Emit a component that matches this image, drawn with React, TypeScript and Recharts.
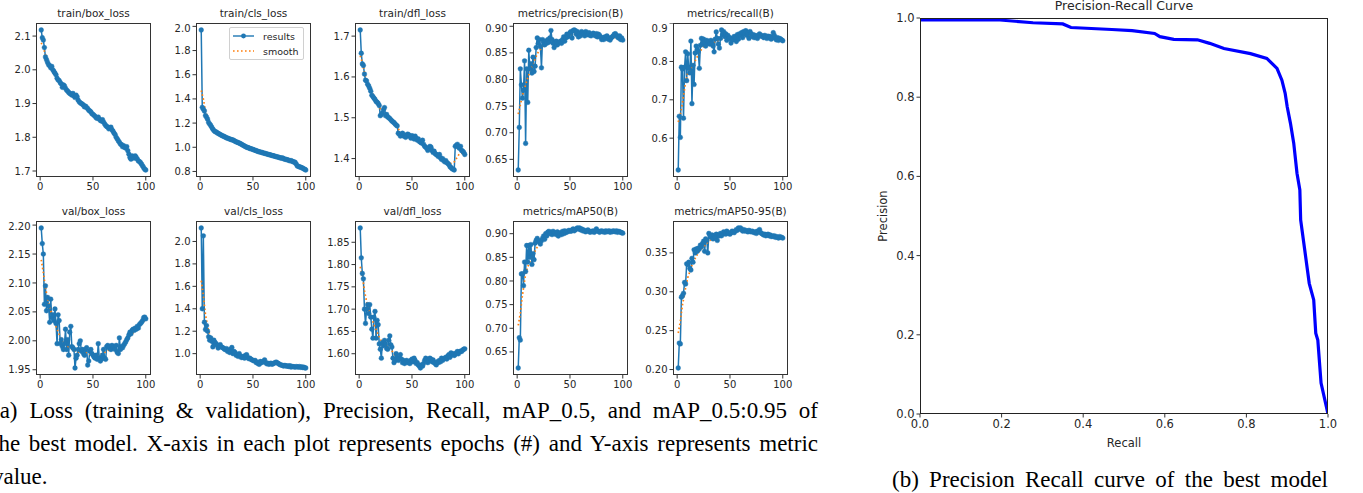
import React from "react"
import { LineChart, Line, XAxis, YAxis, Legend } from "recharts"

// epochs on the x axis of every small plot
const EPOCHS = Array.from({ length: 100 }, (_, i) => i + 1)
const SMOOTH_EPOCHS = [1, 3, 5, 8, 10, 15, 20, 25, 30, 35, 40, 45, 50, 55, 60, 65, 70, 75, 80, 85, 90, 95, 100]

const trainBoxLoss = [
  2.118, 2.095, 2.088, 2.066, 2.038, 2.030, 2.022, 2.015, 2.012, 2.006,
  2.010, 2.000, 1.995, 1.990, 1.985, 1.975, 1.970, 1.968, 1.962, 1.958,
  1.948, 1.955, 1.952, 1.945, 1.940, 1.937, 1.933, 1.930, 1.928, 1.925,
  1.930, 1.922, 1.918, 1.925, 1.920, 1.910, 1.905, 1.902, 1.900, 1.898,
  1.895, 1.890, 1.892, 1.888, 1.885, 1.880, 1.878, 1.875, 1.870, 1.868,
  1.865, 1.862, 1.858, 1.856, 1.860, 1.854, 1.850, 1.848, 1.852, 1.845,
  1.840, 1.835, 1.832, 1.830, 1.825, 1.828, 1.830, 1.822, 1.818, 1.812,
  1.808, 1.800, 1.795, 1.790, 1.785, 1.780, 1.778, 1.772, 1.775, 1.770,
  1.768, 1.772, 1.760, 1.750, 1.740, 1.735, 1.745, 1.742, 1.738, 1.745,
  1.740, 1.735, 1.730, 1.728, 1.725, 1.720, 1.715, 1.710, 1.705, 1.703,
]
const trainBoxSmooth = [2.080, 2.065, 2.045, 2.020, 2.008, 1.985, 1.960, 1.942, 1.928, 1.917, 1.900, 1.887, 1.870, 1.858, 1.847, 1.830, 1.815, 1.790, 1.772, 1.750, 1.738, 1.723, 1.706]

const trainClsLoss = [
  1.970, 1.330, 1.315, 1.300, 1.262, 1.250, 1.232, 1.205, 1.192, 1.180,
  1.165, 1.150, 1.138, 1.130, 1.128, 1.120, 1.115, 1.110, 1.105, 1.100,
  1.095, 1.092, 1.088, 1.082, 1.078, 1.075, 1.072, 1.068, 1.065, 1.062,
  1.060, 1.055, 1.050, 1.045, 1.042, 1.038, 1.035, 1.030, 1.025, 1.020,
  1.015, 1.010, 1.005, 1.000, 0.998, 0.995, 0.990, 0.988, 0.985, 0.982,
  0.978, 0.975, 0.972, 0.968, 0.965, 0.962, 0.960, 0.958, 0.955, 0.952,
  0.950, 0.948, 0.945, 0.942, 0.940, 0.938, 0.935, 0.932, 0.930, 0.928,
  0.925, 0.922, 0.920, 0.918, 0.915, 0.912, 0.910, 0.912, 0.905, 0.902,
  0.900, 0.898, 0.895, 0.892, 0.888, 0.890, 0.885, 0.880, 0.878, 0.875,
  0.860, 0.845, 0.842, 0.838, 0.835, 0.832, 0.828, 0.822, 0.818, 0.812,
]
const trainClsSmooth = [1.470, 1.400, 1.300, 1.220, 1.180, 1.130, 1.100, 1.080, 1.062, 1.042, 1.022, 1.002, 0.985, 0.968, 0.955, 0.942, 0.928, 0.915, 0.902, 0.888, 0.868, 0.840, 0.816]

const trainDflLoss = [
  1.715, 1.658, 1.632, 1.628, 1.607, 1.592, 1.590, 1.582, 1.578, 1.572,
  1.565, 1.555, 1.552, 1.548, 1.545, 1.540, 1.538, 1.535, 1.530, 1.505,
  1.508, 1.512, 1.520, 1.525, 1.505, 1.508, 1.502, 1.500, 1.498, 1.495,
  1.492, 1.490, 1.488, 1.485, 1.482, 1.480, 1.462, 1.460, 1.455, 1.458,
  1.462, 1.455, 1.458, 1.452, 1.455, 1.460, 1.458, 1.455, 1.450, 1.456,
  1.452, 1.448, 1.455, 1.450, 1.445, 1.448, 1.442, 1.440, 1.438, 1.445,
  1.435, 1.430, 1.428, 1.425, 1.420, 1.425, 1.430, 1.428, 1.420, 1.415,
  1.418, 1.412, 1.410, 1.408, 1.405, 1.410, 1.402, 1.398, 1.400, 1.395,
  1.392, 1.395, 1.390, 1.388, 1.385, 1.380, 1.378, 1.375, 1.374, 1.372,
  1.430, 1.432, 1.435, 1.428, 1.425, 1.430, 1.420, 1.418, 1.415, 1.410,
]
const trainDflSmooth = [1.652, 1.635, 1.612, 1.585, 1.572, 1.547, 1.522, 1.507, 1.494, 1.480, 1.462, 1.456, 1.453, 1.447, 1.437, 1.425, 1.416, 1.406, 1.396, 1.386, 1.392, 1.412, 1.415]

const precision = [
  0.630, 0.710, 0.820, 0.790, 0.765, 0.780, 0.835, 0.680, 0.820, 0.757,
  0.855, 0.820, 0.830, 0.812, 0.842, 0.815, 0.825, 0.860, 0.878, 0.868,
  0.875, 0.862, 0.822, 0.875, 0.870, 0.865, 0.872, 0.868, 0.875, 0.870,
  0.878, 0.892, 0.875, 0.868, 0.860, 0.870, 0.872, 0.865, 0.868, 0.870,
  0.872, 0.868, 0.875, 0.880, 0.872, 0.878, 0.885, 0.880, 0.885, 0.888,
  0.890, 0.878, 0.892, 0.893, 0.892, 0.885, 0.890, 0.880, 0.886, 0.882,
  0.890, 0.888, 0.885, 0.882, 0.890, 0.886, 0.884, 0.888, 0.883, 0.882,
  0.885, 0.887, 0.884, 0.882, 0.886, 0.880, 0.885, 0.883, 0.880, 0.875,
  0.878, 0.875, 0.880, 0.878, 0.882, 0.876, 0.878, 0.874, 0.878, 0.880,
  0.882, 0.885, 0.886, 0.883, 0.880, 0.878, 0.882, 0.875, 0.878, 0.874,
]
const precisionSmooth = [0.735, 0.752, 0.770, 0.790, 0.803, 0.830, 0.852, 0.864, 0.870, 0.871, 0.870, 0.877, 0.884, 0.887, 0.886, 0.886, 0.884, 0.883, 0.880, 0.878, 0.878, 0.880, 0.879]

const recall = [
  0.517, 0.657, 0.602, 0.785, 0.780, 0.652, 0.785, 0.825, 0.750, 0.820,
  0.782, 0.770, 0.853, 0.690, 0.790, 0.740, 0.822, 0.840, 0.832, 0.825,
  0.782, 0.842, 0.860, 0.845, 0.858, 0.850, 0.840, 0.855, 0.848, 0.852,
  0.845, 0.855, 0.848, 0.840, 0.825, 0.858, 0.877, 0.860, 0.845, 0.835,
  0.860, 0.882, 0.870, 0.878, 0.865, 0.872, 0.855, 0.868, 0.860, 0.862,
  0.848, 0.855, 0.858, 0.865, 0.862, 0.852, 0.870, 0.858, 0.872, 0.868,
  0.875, 0.862, 0.878, 0.872, 0.880, 0.868, 0.875, 0.860, 0.878, 0.872,
  0.865, 0.870, 0.862, 0.868, 0.865, 0.860, 0.868, 0.872, 0.866, 0.868,
  0.865, 0.862, 0.868, 0.864, 0.860, 0.866, 0.862, 0.865, 0.858, 0.862,
  0.875, 0.868, 0.860, 0.856, 0.862, 0.855, 0.860, 0.858, 0.856, 0.854,
]
const recallSmooth = [0.642, 0.662, 0.692, 0.745, 0.770, 0.790, 0.818, 0.840, 0.846, 0.850, 0.856, 0.862, 0.862, 0.862, 0.865, 0.868, 0.868, 0.866, 0.866, 0.864, 0.862, 0.860, 0.857]

const valBoxLoss = [
  2.195, 2.168, 2.150, 2.063, 2.095, 2.052, 2.075, 2.060, 2.032, 2.072,
  2.040, 2.045, 2.035, 2.055, 2.030, 1.995, 2.045, 2.035, 1.995, 2.002,
  1.990, 1.985, 1.995, 2.020, 1.985, 2.002, 1.975, 2.015, 2.025, 1.990,
  1.988, 1.985, 1.953, 1.970, 1.975, 1.985, 1.995, 2.000, 1.982, 1.985,
  1.978, 1.975, 1.985, 1.988, 1.958, 1.965, 1.982, 1.985, 1.978, 1.975,
  1.972, 1.970, 1.975, 1.968, 1.995, 1.970, 1.965, 1.968, 1.975, 1.985,
  1.970, 1.968, 1.990, 1.992, 1.988, 1.990, 1.985, 1.992, 1.988, 1.990,
  1.985, 1.992, 1.980, 1.978, 2.005, 1.985, 1.990, 1.988, 1.992, 1.995,
  1.998, 2.002, 2.005, 2.010, 2.015, 2.012, 2.018, 2.020, 2.018, 2.022,
  2.020, 2.025, 2.022, 2.028, 2.030, 2.032, 2.035, 2.040, 2.041, 2.038,
]
const valBoxSmooth = [2.140, 2.118, 2.092, 2.065, 2.052, 2.025, 2.002, 1.990, 1.986, 1.980, 1.982, 1.978, 1.975, 1.975, 1.979, 1.984, 1.986, 1.987, 1.995, 2.008, 2.018, 2.028, 2.037]

const valClsLoss = [
  2.120, 1.400, 2.050, 1.280, 1.215, 1.250, 1.200, 1.150, 1.120, 1.140,
  1.110, 1.060, 1.120, 1.100, 1.090, 1.075, 1.050, 1.070, 1.080, 1.060,
  1.055, 1.050, 1.040, 1.035, 1.045, 1.020, 1.030, 1.010, 1.040, 1.055,
  1.000, 1.020, 1.010, 0.985, 0.990, 0.975, 1.000, 0.980, 0.965, 0.970,
  0.975, 0.960, 0.985, 0.990, 0.965, 0.955, 0.960, 0.950, 0.945, 0.940,
  0.935, 0.940, 0.920, 0.925, 0.910, 0.905, 0.930, 0.920, 0.925, 0.930,
  0.945, 0.920, 0.910, 0.915, 0.905, 0.910, 0.915, 0.905, 0.910, 0.915,
  0.920, 0.925, 0.918, 0.912, 0.905, 0.900, 0.898, 0.895, 0.890, 0.895,
  0.892, 0.888, 0.890, 0.885, 0.892, 0.880, 0.886, 0.884, 0.882, 0.880,
  0.885, 0.882, 0.880, 0.885, 0.878, 0.882, 0.876, 0.880, 0.874, 0.872,
]
const valClsSmooth = [1.650, 1.520, 1.350, 1.200, 1.150, 1.085, 1.055, 1.040, 1.022, 0.995, 0.975, 0.962, 0.945, 0.930, 0.922, 0.915, 0.912, 0.908, 0.898, 0.890, 0.884, 0.881, 0.876]

const valDflLoss = [
  1.882, 1.815, 1.780, 1.768, 1.700, 1.668, 1.700, 1.710, 1.690, 1.710,
  1.682, 1.655, 1.635, 1.682, 1.695, 1.635, 1.675, 1.665, 1.622, 1.610,
  1.590, 1.625, 1.618, 1.630, 1.622, 1.612, 1.610, 1.630, 1.640, 1.620,
  1.615, 1.590, 1.580, 1.585, 1.600, 1.592, 1.585, 1.590, 1.598, 1.588,
  1.580, 1.585, 1.578, 1.582, 1.585, 1.580, 1.582, 1.578, 1.585, 1.588,
  1.582, 1.590, 1.585, 1.578, 1.580, 1.575, 1.572, 1.568, 1.575, 1.572,
  1.578, 1.585, 1.590, 1.588, 1.580, 1.585, 1.590, 1.588, 1.582, 1.586,
  1.580, 1.578, 1.575, 1.582, 1.580, 1.585, 1.582, 1.590, 1.585, 1.588,
  1.590, 1.592, 1.588, 1.595, 1.598, 1.592, 1.602, 1.598, 1.600, 1.596,
  1.598, 1.602, 1.605, 1.600, 1.604, 1.606, 1.605, 1.608, 1.610, 1.611,
]
const valDflSmooth = [1.795, 1.775, 1.742, 1.705, 1.690, 1.660, 1.632, 1.620, 1.610, 1.592, 1.587, 1.583, 1.581, 1.578, 1.577, 1.582, 1.583, 1.583, 1.586, 1.592, 1.598, 1.604, 1.608]

const map50 = [
  0.616, 0.680, 0.675, 0.815, 0.815, 0.790, 0.840, 0.820, 0.875, 0.840,
  0.875, 0.850, 0.877, 0.835, 0.858, 0.845, 0.880, 0.886, 0.890, 0.885,
  0.882, 0.878, 0.885, 0.890, 0.895, 0.888, 0.900, 0.895, 0.903, 0.905,
  0.900, 0.903, 0.898, 0.905, 0.900, 0.902, 0.898, 0.904, 0.895, 0.900,
  0.902, 0.898, 0.905, 0.900, 0.906, 0.902, 0.905, 0.904, 0.907, 0.906,
  0.905, 0.908, 0.910, 0.906, 0.908, 0.910, 0.912, 0.910, 0.912, 0.908,
  0.910, 0.906, 0.908, 0.905, 0.904, 0.906, 0.908, 0.905, 0.903, 0.905,
  0.904, 0.906, 0.903, 0.905, 0.910, 0.906, 0.905, 0.903, 0.905, 0.906,
  0.904, 0.905, 0.903, 0.906, 0.904, 0.905, 0.906, 0.903, 0.905, 0.904,
  0.906, 0.905, 0.904, 0.906, 0.903, 0.905, 0.904, 0.903, 0.902, 0.901,
]
const map50Smooth = [0.706, 0.732, 0.770, 0.815, 0.830, 0.855, 0.876, 0.890, 0.897, 0.900, 0.902, 0.904, 0.906, 0.907, 0.908, 0.907, 0.906, 0.906, 0.905, 0.905, 0.904, 0.904, 0.903]

const map5095 = [
  0.202, 0.234, 0.233, 0.293, 0.295, 0.298, 0.312, 0.310, 0.336, 0.335,
  0.338, 0.330, 0.328, 0.343, 0.338, 0.354, 0.350, 0.355, 0.352, 0.356,
  0.355, 0.360, 0.358, 0.362, 0.365, 0.352, 0.368, 0.366, 0.350, 0.375,
  0.372, 0.370, 0.373, 0.368, 0.372, 0.370, 0.374, 0.366, 0.373, 0.372,
  0.375, 0.372, 0.374, 0.377, 0.376, 0.374, 0.378, 0.376, 0.375, 0.374,
  0.376, 0.378, 0.377, 0.376, 0.378, 0.380, 0.379, 0.382, 0.381, 0.382,
  0.380, 0.378, 0.380, 0.378, 0.379, 0.378, 0.377, 0.379, 0.378, 0.377,
  0.378, 0.377, 0.376, 0.377, 0.375, 0.378, 0.377, 0.380, 0.376, 0.375,
  0.374, 0.373, 0.374, 0.372, 0.373, 0.374, 0.372, 0.373, 0.371, 0.372,
  0.371, 0.372, 0.370, 0.371, 0.370, 0.369, 0.371, 0.370, 0.370, 0.369,
]
const map5095Smooth = [0.247, 0.262, 0.283, 0.305, 0.318, 0.338, 0.350, 0.358, 0.365, 0.370, 0.372, 0.374, 0.376, 0.377, 0.378, 0.379, 0.378, 0.377, 0.375, 0.373, 0.372, 0.371, 0.370]

// precision-recall curve of the best model
const prRecall = [0, 0.196, 0.277, 0.35, 0.37, 0.47, 0.52, 0.575, 0.588, 0.622, 0.68, 0.71, 0.745, 0.81, 0.85, 0.875, 0.887, 0.895, 0.9, 0.908, 0.916, 0.924, 0.931, 0.933, 0.943, 0.954, 0.965, 0.97, 0.975, 0.983, 1.0]
const prPrecision = [0.995, 0.995, 0.988, 0.985, 0.976, 0.971, 0.968, 0.961, 0.953, 0.946, 0.945, 0.936, 0.923, 0.91, 0.898, 0.873, 0.843, 0.81, 0.776, 0.734, 0.684, 0.608, 0.566, 0.49, 0.414, 0.33, 0.288, 0.204, 0.187, 0.078, 0.0]

const BLUE = "#1f77b4"
const ORANGE = "#ff7f0e"
const TXT = "#262626"
const FONT = "DejaVu Sans"
const PW = 115
const PH = 154

const plots = [
  { title: "train/box_loss", values: trainBoxLoss, smooth: trainBoxSmooth, ticks: [1.7, 1.8, 1.9, 2.0, 2.1], digits: 1, x: 36, y: 22.7 },
  { title: "train/cls_loss", values: trainClsLoss, smooth: trainClsSmooth, ticks: [0.8, 1.0, 1.2, 1.4, 1.6, 1.8, 2.0], digits: 1, x: 196, y: 22.7, legend: true },
  { title: "train/dfl_loss", values: trainDflLoss, smooth: trainDflSmooth, ticks: [1.4, 1.5, 1.6, 1.7], digits: 1, x: 355, y: 22.7 },
  { title: "metrics/precision(B)", values: precision, smooth: precisionSmooth, ticks: [0.65, 0.7, 0.75, 0.8, 0.85, 0.9], digits: 2, x: 513, y: 22.7 },
  { title: "metrics/recall(B)", values: recall, smooth: recallSmooth, ticks: [0.6, 0.7, 0.8, 0.9], digits: 1, x: 673, y: 22.7 },
  { title: "val/box_loss", values: valBoxLoss, smooth: valBoxSmooth, ticks: [1.95, 2.0, 2.05, 2.1, 2.15, 2.2], digits: 2, x: 36, y: 220.5 },
  { title: "val/cls_loss", values: valClsLoss, smooth: valClsSmooth, ticks: [1.0, 1.2, 1.4, 1.6, 1.8, 2.0], digits: 1, x: 196, y: 220.5 },
  { title: "val/dfl_loss", values: valDflLoss, smooth: valDflSmooth, ticks: [1.6, 1.65, 1.7, 1.75, 1.8, 1.85], digits: 2, x: 355, y: 220.5 },
  { title: "metrics/mAP50(B)", values: map50, smooth: map50Smooth, ticks: [0.65, 0.7, 0.75, 0.8, 0.85, 0.9], digits: 2, x: 513, y: 220.5 },
  { title: "metrics/mAP50-95(B)", values: map5095, smooth: map5095Smooth, ticks: [0.2, 0.25, 0.3, 0.35], digits: 2, x: 673, y: 220.5 },
]

const LegendBox = () => (
  <div style={{ width: 75, height: 33, boxSizing: "border-box", border: "1px solid #d0d0d0", borderRadius: 2, background: "rgba(255,255,255,0.85)", fontFamily: FONT, fontSize: 9.5, color: TXT, padding: "1px 0 0 3px" }}>
    <div style={{ display: "flex", alignItems: "center", height: 15 }}>
      <svg width={21} height={8}>
        <line x1={0} y1={4} x2={21} y2={4} stroke={BLUE} strokeWidth={1.4} />
        <circle cx={10.5} cy={4} r={2.4} fill={BLUE} />
      </svg>
      <span style={{ marginLeft: 9 }}>results</span>
    </div>
    <div style={{ display: "flex", alignItems: "center", height: 15 }}>
      <svg width={21} height={8}>
        <line x1={0} y1={4} x2={21} y2={4} stroke={ORANGE} strokeWidth={1.6} strokeDasharray="1.6 2.4" />
      </svg>
      <span style={{ marginLeft: 9 }}>smooth</span>
    </div>
  </div>
)

function SmallPlot({ p }: any) {
  const lo = Math.min(...p.values)
  const hi = Math.max(...p.values)
  const pad = (hi - lo) * 0.05
  const data = EPOCHS.map((e, i) => ({ epoch: e, v: p.values[i] }))
  const sData = SMOOTH_EPOCHS.map((e, i) => ({ epoch: e, s: p.smooth[i] }))
  const tick = { fill: TXT, fontSize: 10, fontFamily: FONT }

  return (
    <div style={{ position: "absolute", left: p.x - 40, top: p.y }}>
      <LineChart width={40 + PW + 6} height={PH + 22} margin={{ top: 0, right: 6, left: 0, bottom: 0 }}>
        <XAxis dataKey="epoch" type="number" domain={[-3.95, 104.95]} ticks={[0, 50, 100]} allowDataOverflow
          axisLine={false} tickSize={3.5} tickLine={{ stroke: "#333" }} tick={tick} height={22} />
        <YAxis type="number" domain={[lo - pad, hi + pad]} ticks={p.ticks} allowDataOverflow width={40}
          axisLine={false} tickSize={3.5} tickLine={{ stroke: "#333" }} tick={tick}
          tickFormatter={(v: number) => v.toFixed(p.digits)} />
        <Line data={data} dataKey="v" type="linear" stroke={BLUE} strokeWidth={1.5}
          dot={{ r: 2.4, fill: BLUE, stroke: BLUE, strokeWidth: 0.4 }} isAnimationActive={false} />
        <Line data={sData} dataKey="s" type="linear" stroke={ORANGE} strokeWidth={1.7}
          strokeDasharray="1.6 2.4" dot={false} isAnimationActive={false} />
        {p.legend && (
          <Legend content={<LegendBox />} layout="horizontal" verticalAlign="middle" align="center"
            wrapperStyle={{ left: 73, top: 4.3, width: 75, height: 33 }} />
        )}
      </LineChart>
      <div style={{ position: "absolute", left: 40, top: 0, width: PW, height: PH, boxSizing: "border-box", border: "1px solid #333", pointerEvents: "none" }} />
      <div style={{ position: "absolute", left: 30, top: -17, width: PW + 20, textAlign: "center", fontFamily: FONT, fontSize: 10.5, lineHeight: "14px", color: TXT, whiteSpace: "nowrap" }}>
        {p.title}
      </div>
    </div>
  )
}

export default function App() {
  const prData = prRecall.map((r, i) => ({ r, p: prPrecision[i] }))
  const prTick = { fill: TXT, fontSize: 11.5, fontFamily: FONT }
  const serif = { fontFamily: "Liberation Serif", fontSize: 23, color: "#000", lineHeight: "26px", textAlign: "justify" as const, textAlignLast: "justify" as const }

  return (
    <div style={{ position: "absolute", left: 0, top: 0, width: 1363, height: 493, overflow: "hidden", background: "#fff" }}>

      {plots.map((p) => (
        <SmallPlot key={p.title} p={p} />
      ))}

      <div style={{ ...serif, position: "absolute", left: -8, top: 398, width: 826 }}>
        (a) Loss (training &amp; validation), Precision, Recall, mAP_0.5, and mAP_0.5:0.95 of
      </div>
      <div style={{ ...serif, position: "absolute", left: -8, top: 431, width: 826 }}>
        the best model. X-axis in each plot represents epochs (#) and Y-axis represents metric
      </div>
      <div style={{ ...serif, textAlign: "left", textAlignLast: "left", position: "absolute", left: -8, top: 464, width: 826 }}>
        value.
      </div>

      <div style={{ position: "absolute", left: 860, top: 0 }}>
        <LineChart width={503} height={460} data={prData} margin={{ top: 18, right: 35, left: 0, bottom: 0 }}>
          <XAxis dataKey="r" type="number" domain={[0, 1]} ticks={[0, 0.2, 0.4, 0.6, 0.8, 1.0]} allowDataOverflow
            axisLine={false} tickSize={3.5} tickLine={{ stroke: "#333" }} tick={prTick} height={46}
            tickFormatter={(v: number) => v.toFixed(1)}
            label={{ value: "Recall", position: "center", dy: 6, fill: TXT, fontSize: 11.5, fontFamily: FONT }} />
          <YAxis type="number" domain={[0, 1]} ticks={[0, 0.2, 0.4, 0.6, 0.8, 1.0]} allowDataOverflow width={60}
            axisLine={false} tickSize={3.5} tickLine={{ stroke: "#333" }} tick={prTick}
            tickFormatter={(v: number) => v.toFixed(1)}
            label={{ value: "Precision", angle: -90, position: "center", dx: -7, fill: TXT, fontSize: 11.5, fontFamily: FONT }} />
          <Line dataKey="p" type="linear" stroke="#0000ff" strokeWidth={3.2} dot={false} isAnimationActive={false} />
        </LineChart>
        <div style={{ position: "absolute", left: 60, top: 18, width: 408, height: 396, boxSizing: "border-box", border: "1px solid #222", pointerEvents: "none" }} />
        <div style={{ position: "absolute", left: 60, top: -1, width: 408, textAlign: "center", fontFamily: FONT, fontSize: 12.5, lineHeight: "14px", color: TXT }}>
          Precision-Recall Curve
        </div>
      </div>

      <div style={{ ...serif, position: "absolute", left: 892, top: 467, width: 436 }}>
        (b) Precision Recall curve of the best model
      </div>
    </div>
  )
}
